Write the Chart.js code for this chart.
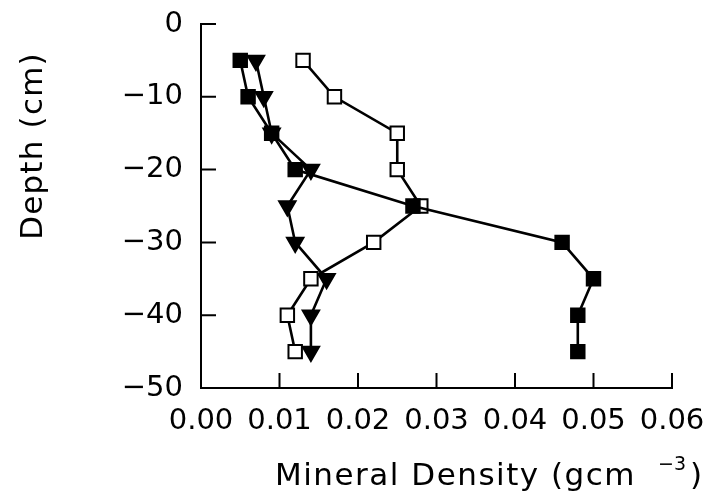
<!DOCTYPE html>
<html>
<head>
<meta charset="utf-8">
<script src="https://cdn.jsdelivr.net/npm/chart.js@4.4.1/dist/chart.umd.min.js"></script>
<style>
  html, body { margin: 0; padding: 0; background: #fff; }
  #wrap { width: 711px; height: 494px; }
</style>
</head>
<body>
<div id="wrap"><canvas id="depth-chart"></canvas></div>
<script>
// Depth profile values
const depths = [-5, -10, -15, -20, -25, -30, -35, -40, -45];
const filledSquares = [0.005, 0.006, 0.009, 0.012, 0.027, 0.046, 0.050, 0.048, 0.048];
const filledTriangles = [0.007, 0.008, 0.009, 0.014, 0.011, 0.012, 0.016, 0.014, 0.014];
const openSquares = [0.013, 0.017, 0.025, 0.025, 0.028, 0.022, 0.014, 0.011, 0.012];

const xTitle = 'Mineral Density (gcm';
const xTitleSup = '\u22123';
const yTitle = 'Depth (cm)';

const FONT = '"DejaVu Sans", sans-serif';

function toPoints(values) {
  return values.map((v, i) => ({ x: v, y: depths[i] }));
}

function makeDataset(label, values, style, fill, rotation) {
  return {
    label: label,
    data: toPoints(values),
    showLine: true,
    borderColor: '#000',
    borderWidth: 2.6,
    pointStyle: style,
    pointRotation: rotation || 0,
    pointRadius: 9.5,
    pointBorderWidth: 2,
    pointBackgroundColor: fill,
    pointBorderColor: '#000',
    pointHoverRadius: 9.5
  };
}

// ticks pointing into the plot, plus the axis titles
const axisDecor = {
  id: 'axisDecor',
  afterDraw(chart) {
    const ctx = chart.ctx;
    const area = chart.chartArea;
    const xs = chart.scales.x;
    const ys = chart.scales.y;
    ctx.save();
    ctx.strokeStyle = '#000';
    ctx.lineWidth = 2;
    ctx.beginPath();
    xs.ticks.forEach(t => {
      const px = xs.getPixelForValue(t.value);
      ctx.moveTo(px, area.bottom);
      ctx.lineTo(px, area.bottom - 15);
    });
    ys.ticks.forEach(t => {
      const py = ys.getPixelForValue(t.value);
      ctx.moveTo(area.left, py);
      ctx.lineTo(area.left + 15, py);
    });
    ctx.stroke();

    ctx.fillStyle = '#000';
    ctx.textBaseline = 'alphabetic';
    // x title with superscript
    ctx.letterSpacing = '1.5px';
    ctx.font = '31px ' + FONT;
    ctx.textAlign = 'left';
    let tx = 275;
    const ty = 485;
    ctx.fillText(xTitle, tx, ty);
    tx += ctx.measureText(xTitle).width + 22;
    ctx.letterSpacing = '0px';
    ctx.font = '19px ' + FONT;
    ctx.fillText(xTitleSup, tx, ty - 15);
    tx += ctx.measureText(xTitleSup).width + 4;
    ctx.font = '31px ' + FONT;
    ctx.fillText(')', tx, ty);

    // y title, rotated
    ctx.translate(42, 146);
    ctx.rotate(-Math.PI / 2);
    ctx.textAlign = 'center';
    ctx.letterSpacing = '1.2px';
    ctx.font = '31px ' + FONT;
    ctx.fillText(yTitle, 0, 0);
    ctx.restore();
  }
};

document.addEventListener('DOMContentLoaded', function () {
  const chart = new Chart(document.querySelector('#depth-chart'), {
    type: 'scatter',
    data: {
      datasets: [
        makeDataset('Filled squares', filledSquares, 'rect', '#000'),
        makeDataset('Filled triangles', filledTriangles, 'triangle', '#000', 180),
        makeDataset('Open squares', openSquares, 'rect', '#fff')
      ]
    },
    options: {
      responsive: true,
      maintainAspectRatio: false,
      animation: false,
      layout: { padding: { left: 0, right: 39, top: 24, bottom: 0 } },
      plugins: {
        legend: { display: false },
        tooltip: { enabled: false }
      },
      scales: {
        x: {
          type: 'linear',
          min: 0,
          max: 0.06,
          // fixed box; label overflow should not shrink the plot
          afterFit: s => { s.height = 106; s.paddingLeft = 0; s.paddingRight = 0; },
          grid: { display: false, drawTicks: false, tickLength: 0 },
          border: { display: true, color: '#000', width: 2 },
          ticks: {
            stepSize: 0.01,
            padding: 16,
            color: '#000',
            font: { family: FONT, size: 29 },
            maxRotation: 0,
            callback: v => v.toFixed(2)
          }
        },
        y: {
          type: 'linear',
          min: -50,
          max: 0,
          afterFit: s => { s.width = 201; s.paddingTop = 0; s.paddingBottom = 0; },
          grid: { display: false, drawTicks: false, tickLength: 0 },
          border: { display: true, color: '#000', width: 2 },
          ticks: {
            stepSize: 10,
            padding: 18,
            color: '#000',
            font: { family: FONT, size: 29 },
            callback: v => (v < 0 ? '\u2212' + Math.abs(v) : String(v))
          }
        }
      }
    },
    plugins: [axisDecor]
  });
});
</script>
</body>
</html>
